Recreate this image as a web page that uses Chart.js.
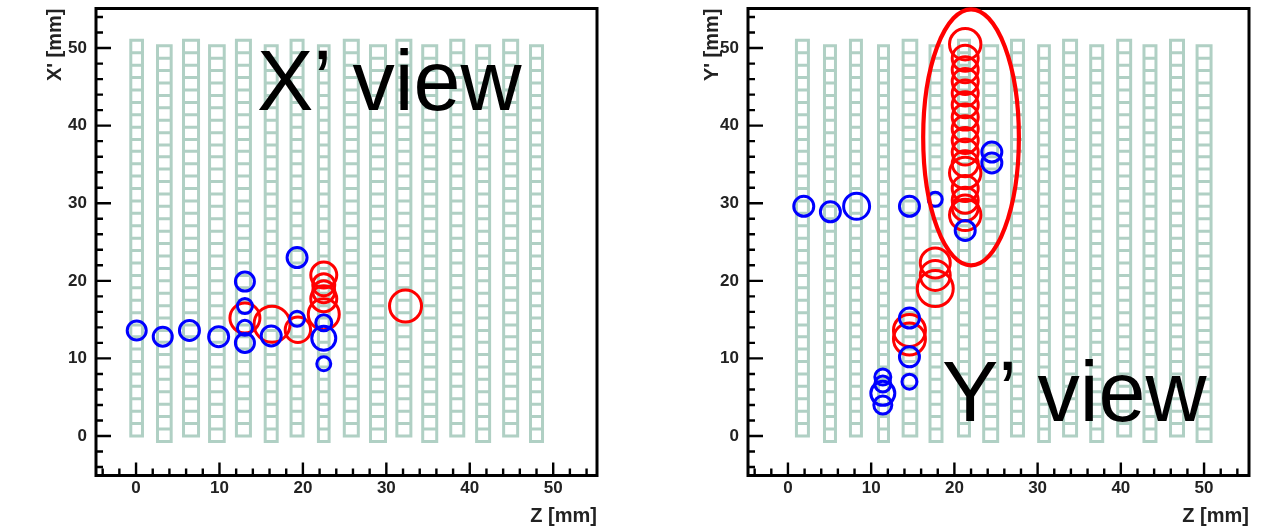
<!DOCTYPE html>
<html><head><meta charset="utf-8">
<script src="https://cdn.jsdelivr.net/npm/chart.js@4"></script>
<style>
html,body{margin:0;padding:0;background:#fff;width:1285px;height:531px;overflow:hidden}
canvas{position:absolute;top:0}
.lab{position:absolute;font-family:"Liberation Sans",Arial,sans-serif;font-size:84.5px;line-height:96px;color:#000;white-space:nowrap}
</style></head><body>
<canvas id="cx" width="640" height="531" style="left:0"></canvas>
<canvas id="cy" width="635" height="531" style="left:650px"></canvas>
<div class="lab" style="left:257px;top:33px">X’ view</div>
<div class="lab" style="left:942px;top:344px">Y’ view</div>
<script>
// Ladder columns
const rungsHigh=[51,49.4,47.8,46.2,44.6,43,41.4,39.8,38.2,36.7,35.1,33.5,31.9,30.3,28.7,27.1,25.5,23.9,22.3,20.7,19.1,17.5,15.9,14.3,12.8,11.2,9.6,8,6.4,4.8,3.2,1.6,0];
const rungsLow=[50.3,48.7,47.1,45.5,43.9,42.3,40.7,39.1,37.5,36,34.4,32.8,31.2,29.6,28,26.4,24.8,23.2,21.6,20,18.4,16.8,15.2,13.6,12.1,10.5,8.9,7.3,5.7,4.1,2.5,0.9,-0.7];
const xColZ=[0.07,3.39,6.59,9.69,12.87,16.2,19.3,22.5,25.8,29,32.1,35.2,38.5,41.6,44.9,48];
const xColW=[1.4,1.64,1.8,1.76,1.68,1.44,1.44,1.28,1.68,1.8,1.68,1.68,1.56,1.56,1.68,1.44];
const yColZ=[1.74,5.05,8.17,11.48,14.66,17.79,21.15,24.36,27.58,30.77,33.9,37.1,40.4,43.5,46.75,50];
const yColW=[1.44,1.32,1.32,1.2,1.64,1.44,1.32,1.68,1.44,1.29,1.56,1.44,1.56,1.44,1.56,1.68];
// X' view hits
const xBlueZ=[0.08,3.2,6.4,9.9,13.05,13.05,13.05,13.05,16.2,19.3,19.3,22.5,22.5,22.5];
const xBlueV=[13.6,12.8,13.6,12.8,19.9,16.75,13.95,12,12.9,23,15.1,14.6,12.6,9.3];
const xBlueR=[9.5,9.5,10,10,9.5,7.5,7.5,9.5,10,10,7.5,8,12,7];
const xRedZ=[13.05,16.3,19.4,22.5,22.5,22.5,22.5,22.5,32.3];
const xRedV=[15.2,14.4,13.7,20.75,19.5,18.6,17.7,15.7,16.75];
const xRedR=[15,18,12.7,13,11,11,13,15.5,16];
// Y' view hits
const yBlueZ=[1.9,5.1,8.25,14.6,17.7,21.3,14.6,14.6,14.6,11.4,11.4,11.4,11.4,24.5,24.5];
const yBlueV=[29.6,28.9,29.6,29.6,30.5,26.5,15.2,10.2,7,7.6,6.7,5.5,4,36.6,35.2];
const yBlueR=[10,10,13,10,7,10,10,10,7.5,8,8,12,9,10,10];
const yRedZ=[21.3,21.3,21.3,21.3,21.3,21.3,21.3,21.3,21.3,21.3,21.3,21.3,21.3,21.3,21.3,21.3,17.7,17.7,17.7,14.6,14.6];
const yRedV=[50.5,48.7,47.2,45.7,44.2,42.7,41.1,39.6,38.1,36.6,35.1,33.9,31.9,30.4,29.4,28.5,22.3,20.7,19,13.6,12.5];
const yRedR=[15.7,13,13,13,13,13,13,13,13,13,13,15.7,13,13,13,15.7,15,15,18,16,16];
// Highlight ellipse on the Y' view: centre z, centre y, half widths
const ringZ=22, ringV=38.5, ringRz=5.75, ringRv=16.5;
const xTitle="X' [mm]", yTitle="Y' [mm]", zTitle="Z [mm]";

function ladder(c,w,rungs){
  const a=c-w/2,b=c+w/2,p=[];
  rungs.forEach((r,i)=>{ if(i%2===0){p.push({x:a,y:r},{x:b,y:r});} else {p.push({x:b,y:r},{x:a,y:r});} });
  const last=rungs[rungs.length-1],first=rungs[0];
  p.push({x:a,y:last},{x:a,y:first},{x:b,y:first},{x:b,y:last},{x:a,y:last});
  return p;
}
const pts=(z,v)=>z.map((q,i)=>({x:q,y:v[i]}));
const frame={id:'frame',afterDatasetsDraw(ch,a,opts){
  const c=ch.ctx,A=ch.chartArea,X=ch.scales.x,Y=ch.scales.y;
  c.save();c.strokeStyle='#000';c.lineWidth=2.4;c.beginPath();
  X.ticks.forEach(t=>{ if(t.value%2) return;
    const p=X.getPixelForValue(t.value),l=t.value%10===0?13:7;
    c.moveTo(p,A.bottom);c.lineTo(p,A.bottom-l);});
  Y.ticks.forEach(t=>{ if(t.value%2) return;
    const p=Y.getPixelForValue(t.value),l=t.value%10===0?15:7;
    c.moveTo(A.left,p);c.lineTo(A.left+l,p);});
  c.stroke();
  c.lineWidth=3;c.strokeRect(A.left,A.top,A.right-A.left,A.bottom-A.top);
  if(opts.ring){
    c.strokeStyle='#ff0000';c.lineWidth=4.2;c.beginPath();
    const cx=X.getPixelForValue(ringZ),cy=Y.getPixelForValue(ringV);
    c.ellipse(cx,cy,Math.abs(X.getPixelForValue(ringZ+ringRz)-cx),Math.abs(Y.getPixelForValue(ringV+ringRv)-cy),0,0,Math.PI*2);
    c.stroke();
  }
  c.restore();
}};
function make(id,colZ,colW,redZ,redV,redR,bZ,bV,bR,xr,yname,area,ring){
  const ds=[];
  colZ.forEach((z,i)=>ds.push({data:ladder(z,colW[i],i%2?rungsLow:rungsHigh),showLine:true,borderColor:'#b0d0c4',borderWidth:3,pointRadius:0,tension:0,order:10,clip:false}));
  ds.push({data:pts(redZ,redV),pointRadius:redR,pointBackgroundColor:'transparent',pointBorderColor:'#ff0000',pointBorderWidth:3,showLine:false,order:2,clip:false});
  ds.push({data:pts(bZ,bV),pointRadius:bR,pointBackgroundColor:'transparent',pointBorderColor:'#0000ff',pointBorderWidth:3,showLine:false,order:1,clip:false});
  const font={family:'"Liberation Sans",Arial,sans-serif',size:17,weight:'bold'};
  const tfont={family:'"Liberation Sans",Arial,sans-serif',size:20,weight:'bold'};
  const lab=v=>(v%10===0?String(v):'');
  new Chart(document.getElementById(id),{type:'scatter',data:{datasets:ds},plugins:[frame],options:{
    responsive:false,animation:false,
    layout:{autoPadding:false,padding:{left:area.pl,top:8.5,right:area.pr,bottom:0}},
    plugins:{legend:{display:false},tooltip:{enabled:false},frame:{ring}},
    scales:{
      x:{type:'linear',min:xr[0],max:xr[1],grid:{display:false,drawTicks:false},border:{display:false},
        ticks:{stepSize:2,includeBounds:false,autoSkip:false,maxRotation:0,padding:3,color:'#222',font,callback:lab},
        title:{display:true,text:zTitle,align:'end',color:'#222',font:tfont,padding:{top:0,bottom:3}},
        afterFit(s){s.height=531-475.5;s.paddingLeft=0;s.paddingRight=0;}},
      y:{type:'linear',min:-5.09,max:55.1,grid:{display:false,drawTicks:false},border:{display:false},
        ticks:{stepSize:2,includeBounds:false,autoSkip:false,padding:9,color:'#222',font,callback:lab},
        title:{display:true,text:yname,align:'end',color:'#222',font:tfont,padding:{top:0,bottom:0}},
        afterFit(s){s.width=area.w;s.paddingTop=0;s.paddingBottom=0;}}
    }}});
}
make('cx',xColZ,xColW,xRedZ,xRedV,xRedR,xBlueZ,xBlueV,xBlueR,[-4.8,55.25],xTitle,{pl:43,pr:43,w:53},false);
make('cy',yColZ,yColW,yRedZ,yRedV,yRedR,yBlueZ,yBlueV,yBlueR,[-4.8,55.4],yTitle,{pl:50,pr:36,w:48},true);
</script>
</body></html>
